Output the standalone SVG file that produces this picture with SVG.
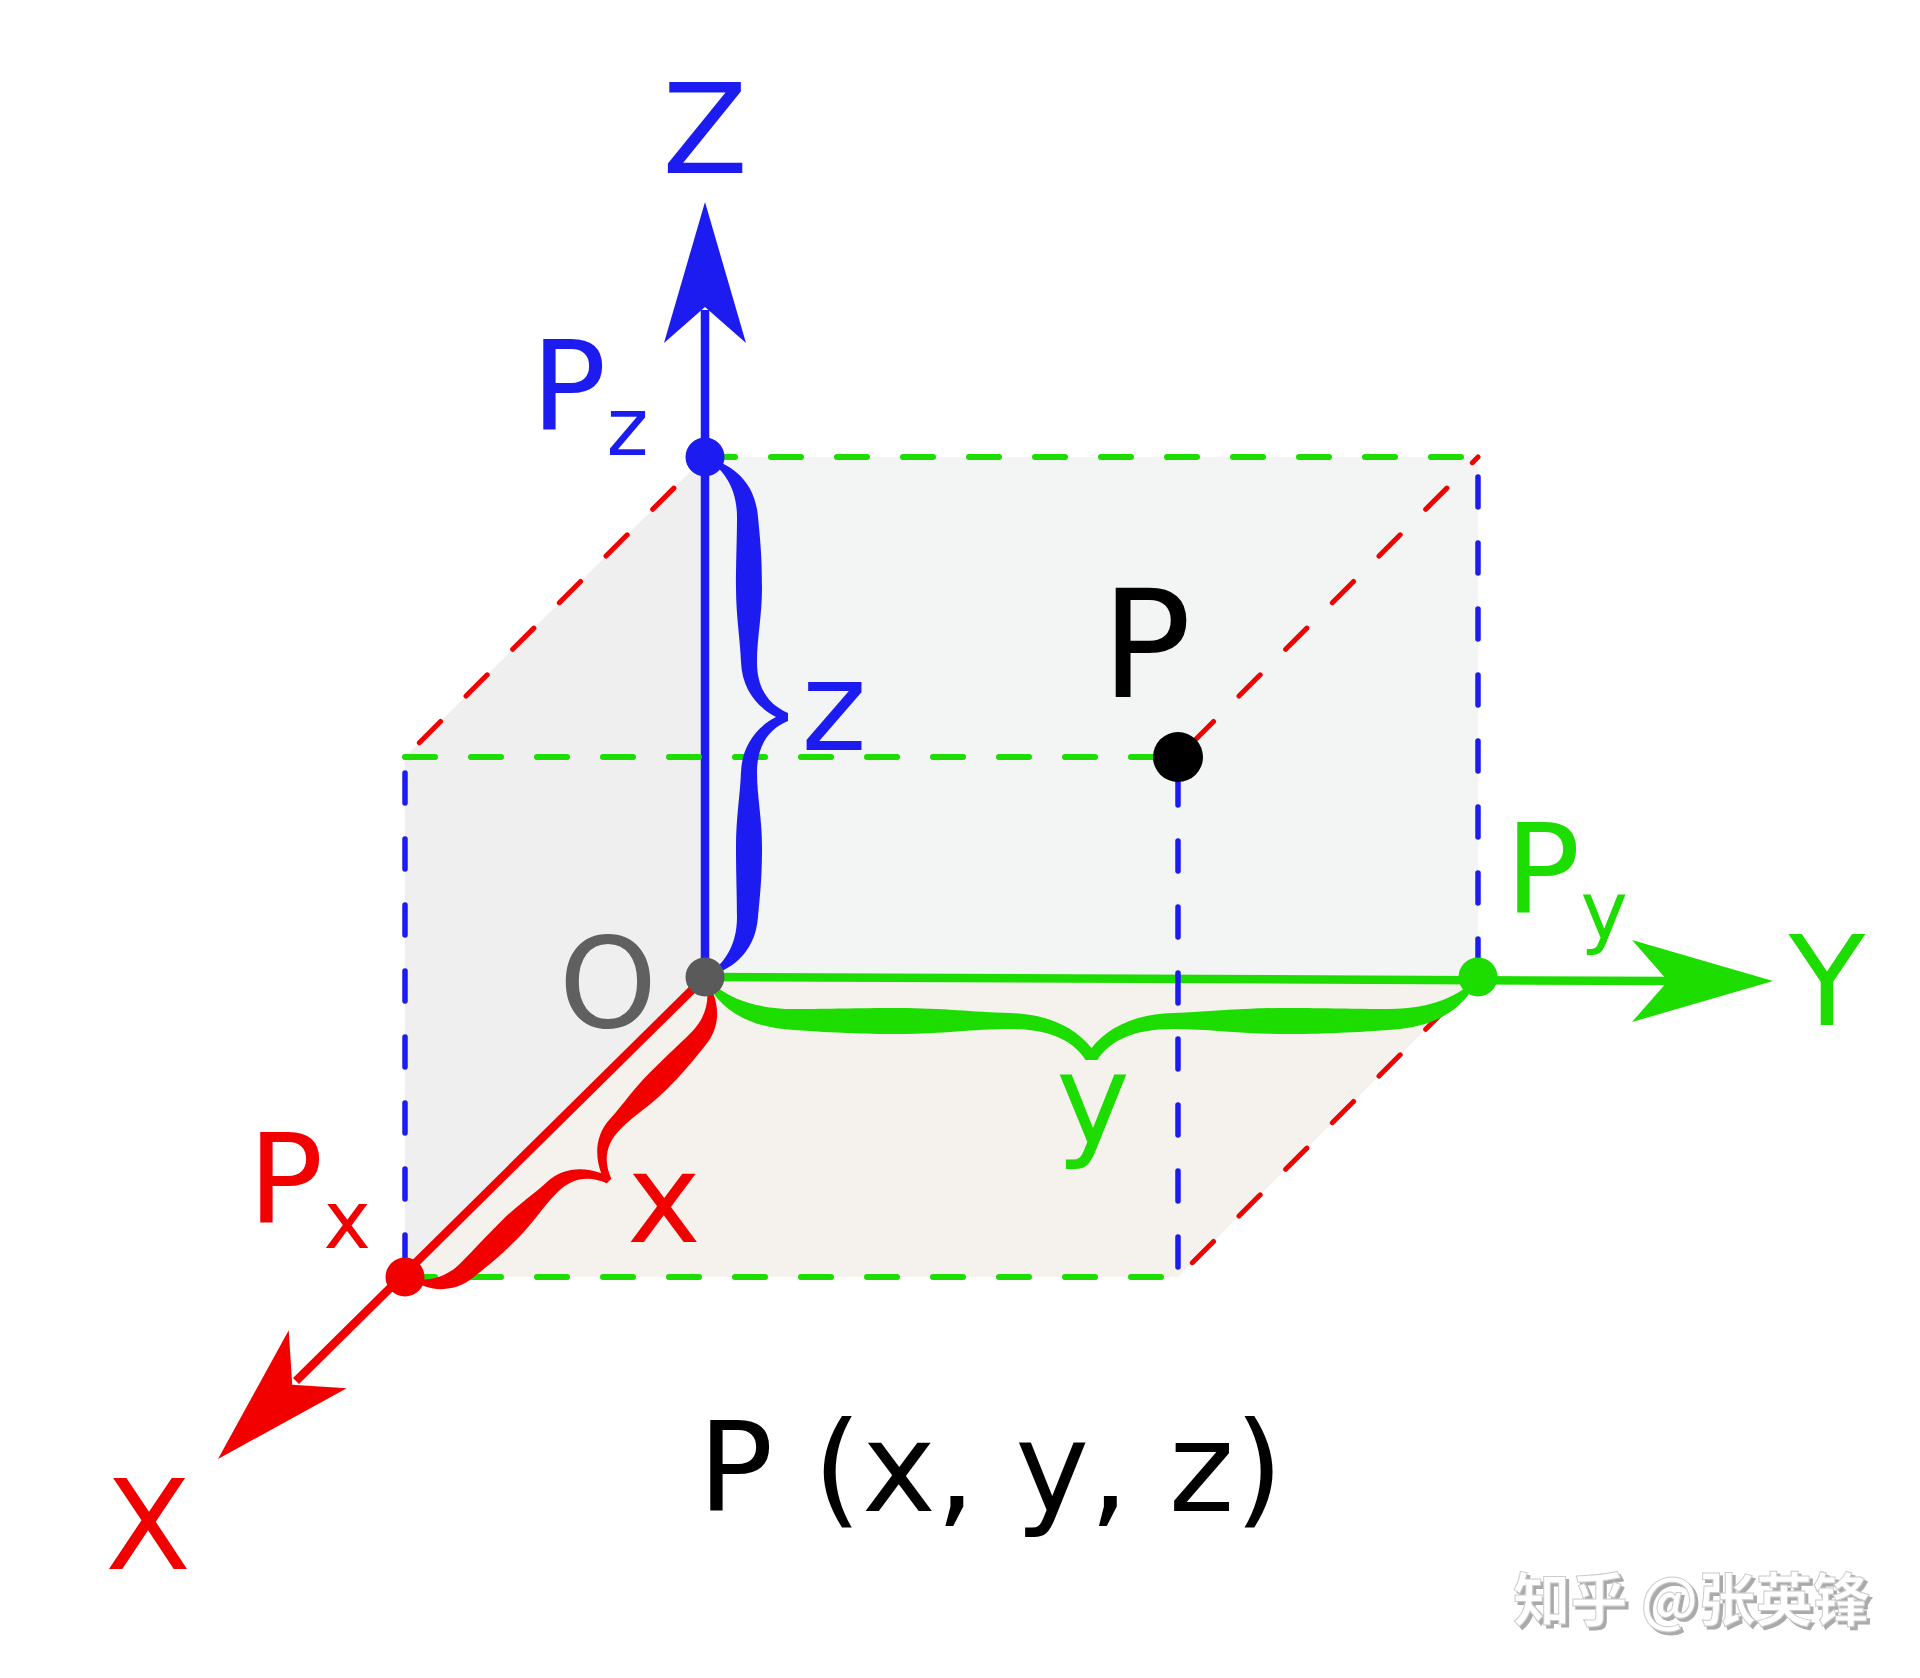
<svg xmlns="http://www.w3.org/2000/svg" xmlns:xlink="http://www.w3.org/1999/xlink" width="1920" height="1678" viewBox="0 0 1920 1678">
<style>
.lbl{font-family:"DejaVu Sans","Liberation Sans",sans-serif;font-size:125px}
.big{font-size:150px}
.sub{font-size:80px}
.blue{fill:#1c1cf0}
.red{fill:#f20000}
.green{fill:#1cdc00}
.dash{fill:none;stroke-dasharray:30 36;stroke-linecap:round}
.dg{stroke:#1cdc00;stroke-width:6}
.db{stroke:#1c1cf0;stroke-width:5.5}
.dr{stroke:#f20000;stroke-width:5}
.axis{fill:none;stroke-width:8.5}
.wm{font-family:"Noto Sans CJK SC","Noto Sans",sans-serif;font-size:58px;font-weight:700;fill:#ffffff;stroke:#cccccc;stroke-width:1}
</style>
<defs>
<path id="ah" d="M0,0 L-141,-41 L-105,0 L-141,41 Z"/>
<path id="brace" d="M0,0 C6,24 22,50 60,53 C90,56 105,57 130,57 C160,57 180,52 205,52 C232,52 248,64 256,83 L264,83 C272,64 288,52 315,52 C340,52 360,57 390,57 C415,57 430,56 460,53 C498,50 514,24 520,0 C508,18 490,32 460,32 C435,32 420,31 390,31 C360,31 340,35 315,36 C288,37 270,52 260,71 C250,52 232,37 205,36 C180,35 160,31 130,31 C100,31 85,32 60,32 C30,32 12,18 0,0 Z"/>
<filter id="shadow" x="-5%" y="-20%" width="110%" height="140%">
<feDropShadow dx="3" dy="3" stdDeviation="0.6" flood-color="#aaaaaa" flood-opacity="1"/>
</filter>
</defs>
<rect width="1920" height="1678" fill="#ffffff"/>
<g id="faces">
<polygon points="705,457 405,757 405,1277 705,977" fill="#efeff0"/>
<rect x="705" y="457" width="773" height="520" fill="#f3f4f4"/>
<polygon points="705,977 1478,977 1178,1277 405,1277" fill="#f5f2ee"/>
</g>
<g id="connectors">
<line class="axis" stroke="#1c1cf0" x1="705" y1="977" x2="705" y2="310"/>
<line class="axis" stroke="#1cdc00" x1="705" y1="977" x2="1675" y2="981"/>
<line class="axis" stroke="#f20000" x1="705" y1="977" x2="296" y2="1381"/>
<use xlink:href="#ah" class="blue" transform="translate(705,202) rotate(-90)"/>
<use xlink:href="#ah" class="green" transform="translate(1773,981)"/>
<use xlink:href="#ah" class="red" transform="translate(218,1459) rotate(135)"/>
<line class="dash dg" x1="705" y1="457" x2="1478" y2="457"/>
<line class="dash dg" x1="405" y1="757" x2="1178" y2="757"/>
<line class="dash dg" x1="405" y1="1277" x2="1178" y2="1277"/>
<line class="dash db" x1="405" y1="757" x2="405" y2="1277" stroke-dashoffset="-16"/>
<line class="dash db" x1="1178" y1="757" x2="1178" y2="1277" stroke-dashoffset="-18"/>
<line class="dash db" x1="1478" y1="457" x2="1478" y2="977" stroke-dashoffset="-20"/>
<line class="dash dr" x1="705" y1="457" x2="405" y2="757" stroke-dashoffset="-44"/>
<line class="dash dr" x1="1478" y1="457" x2="1178" y2="757" stroke-dashoffset="-44"/>
<line class="dash dr" x1="1478" y1="977" x2="1178" y2="1277" stroke-dashoffset="-44"/>
</g>
<g id="brace-z">
<use xlink:href="#brace" class="blue" transform="matrix(0,1,1,0,705,457)"/>
<text class="lbl blue" x="834" y="750" text-anchor="middle">z</text>
</g>
<g id="brace-y">
<use xlink:href="#brace" class="green" transform="matrix(1.4865,0,0,1,705,977)"/>
<text class="lbl green" x="1093" y="1143" text-anchor="middle">y</text>
</g>
<g id="brace-x">
<use xlink:href="#brace" class="red" transform="matrix(-0.5769,0.5769,0.6505,0.6505,705,977)"/>
<text class="lbl red" x="664" y="1242" text-anchor="middle">x</text>
</g>
<g id="node-O">
<circle cx="705" cy="977" r="19.5" fill="#5a5a5a"/>
<text class="lbl" x="608" y="1027" text-anchor="middle" fill="#606060">O</text>
</g>
<g id="node-Pz">
<circle cx="705" cy="457" r="19.5" class="blue"/>
<text class="lbl blue" x="531" y="430">P<tspan class="sub" dy="25">z</tspan></text>
</g>
<g id="node-Px">
<circle cx="405" cy="1277" r="19.5" class="red"/>
<text class="lbl red" x="248" y="1223">P<tspan class="sub" dy="25">x</tspan></text>
</g>
<g id="node-Py">
<circle cx="1478" cy="977" r="19.5" class="green"/>
<text class="lbl green" x="1505" y="913">P<tspan class="sub" dy="25">y</tspan></text>
</g>
<g id="node-P">
<circle cx="1178" cy="757" r="25" fill="#000000"/>
<text class="lbl big" x="1101" y="697" fill="#000000">P</text>
</g>
<g id="axis-label-Z">
<text class="lbl blue" x="705" y="173" text-anchor="middle">Z</text>
</g>
<g id="axis-label-Y">
<text class="lbl green" x="1827" y="1025" text-anchor="middle">Y</text>
</g>
<g id="axis-label-X">
<text class="lbl red" x="148" y="1569" text-anchor="middle">X</text>
</g>
<g id="caption">
<text class="lbl" x="698" y="1511" fill="#000000">P (x, y, z)</text>
</g>
<g id="watermark">
<text class="wm" x="1513" y="1621" textLength="357" lengthAdjust="spacingAndGlyphs" filter="url(#shadow)">知乎 @张英锋</text>
</g>
</svg>
